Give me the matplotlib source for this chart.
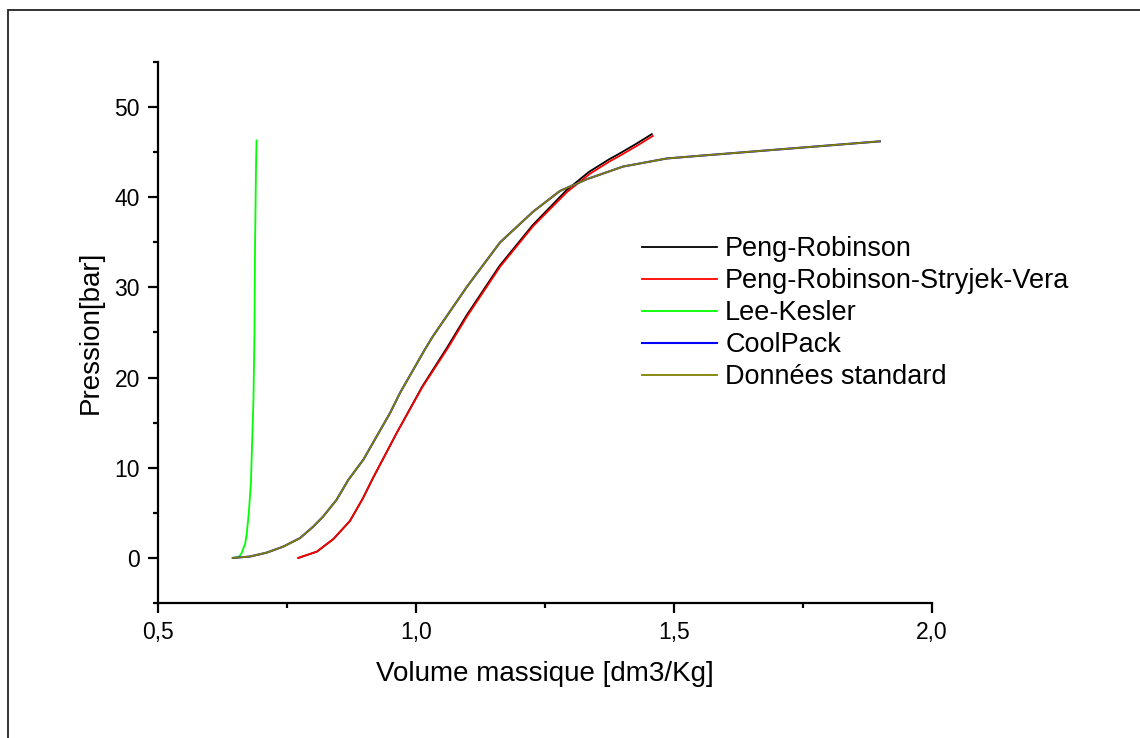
import numpy as np
import matplotlib
matplotlib.use("Agg")
import matplotlib.pyplot as plt
from matplotlib.patches import Rectangle
from matplotlib.ticker import MultipleLocator, FuncFormatter

plt.rcParams['font.family'] = ['Liberation Sans', 'DejaVu Sans']

# Données (volume massique [dm3/kg], pression [bar])
v_prsv = [0.772, 0.808, 0.840, 0.872, 0.897, 0.917, 0.963, 1.013, 1.062, 1.099,
          1.163, 1.227, 1.293, 1.337, 1.376, 1.395, 1.428, 1.459]
p_prsv = [0.0, 0.7, 2.1, 4.1, 6.6, 8.9, 13.9, 19.0, 23.3, 26.8,
          32.3, 36.8, 40.6, 42.6, 44.0, 44.6, 45.7, 46.8]

v_pr = [0.772, 0.808, 0.840, 0.872, 0.897, 0.917, 0.963, 1.012, 1.061, 1.098,
        1.162, 1.226, 1.292, 1.335, 1.374, 1.393, 1.426, 1.457]
p_pr = [0.0, 0.7, 2.1, 4.1, 6.6, 8.9, 13.9, 19.0, 23.4, 26.9,
        32.4, 36.9, 40.8, 42.8, 44.2, 44.8, 45.9, 47.0]

v_lk = [0.646, 0.656, 0.662, 0.669, 0.672, 0.676, 0.680, 0.682, 0.685, 0.687,
        0.688, 0.690, 0.691]
p_lk = [0.0, 0.08, 0.52, 1.6, 2.7, 5.0, 8.3, 12.0, 17.6, 25.2,
        34.2, 43.5, 46.3]

v_std = [0.645, 0.678, 0.711, 0.743, 0.775, 0.801, 0.820, 0.846, 0.869, 0.898,
         0.950, 0.969, 1.017, 1.033, 1.099, 1.163, 1.227, 1.279, 1.331, 1.401,
         1.486, 1.550, 1.899]
p_std = [0.0, 0.15, 0.59, 1.26, 2.19, 3.48, 4.59, 6.44, 8.67, 10.9,
         16.1, 18.3, 23.1, 24.6, 30.1, 35.0, 38.4, 40.7, 42.0, 43.4,
         44.3, 44.6, 46.2]

v_cp = v_std
p_cp = p_std

fig = plt.figure(figsize=(11.4, 7.38), dpi=100)
ax = fig.add_axes([158/1140, 1 - 603/738, 774/1140, 541/738])

ax.plot(v_pr, p_pr, color='black', lw=1.3, label='Peng-Robinson')
ax.plot(v_prsv, p_prsv, color='#ff0000', lw=1.3, label='Peng-Robinson-Stryjek-Vera')
ax.plot(v_lk, p_lk, color='#00ff00', lw=1.3, label='Lee-Kesler')
ax.plot(v_cp, p_cp, color='#0000ff', lw=1.5, label='CoolPack')
ax.plot(v_std, p_std, color='#808000', lw=1.3, label='Données standard')

ax.set_xlim(0.5, 2.0)
ax.set_ylim(-5, 55)
ax.spines['top'].set_visible(False)
ax.spines['right'].set_visible(False)
ax.spines['left'].set_linewidth(1.6)
ax.spines['bottom'].set_linewidth(1.6)

ax.xaxis.set_major_locator(MultipleLocator(0.5))
ax.xaxis.set_minor_locator(MultipleLocator(0.25))
ax.yaxis.set_major_locator(MultipleLocator(10))
ax.yaxis.set_minor_locator(MultipleLocator(5))
ax.yaxis.set_major_formatter(FuncFormatter(lambda y, _: f"{y:.0f}"))
ax.xaxis.set_major_formatter(FuncFormatter(lambda x, _: f"{x:.1f}".replace('.', ',')))
ax.tick_params(which='major', length=7, width=1.6, labelsize=16.5, pad=6)
ax.tick_params(which='minor', length=3.6, width=1.6)
ax.set_yticks([0, 10, 20, 30, 40, 50])

ax.set_xlabel("Volume massique [dm3/Kg]", fontsize=20, labelpad=12)
ax.set_ylabel("Pression[bar]", fontsize=20, labelpad=8)

ax.legend(loc='upper left', bbox_to_anchor=(0.625, 0.678), frameon=False,
          fontsize=19.5, handlelength=2.78, handletextpad=0.3, labelspacing=0.22,
          borderpad=0, borderaxespad=0)

fig.patches.append(Rectangle((8/1140, -0.2), 1.2, 1.2 - 10/738, transform=fig.transFigure,
                             fill=False, edgecolor='#222222', lw=1.3))

fig.savefig("out.png", dpi=100)
